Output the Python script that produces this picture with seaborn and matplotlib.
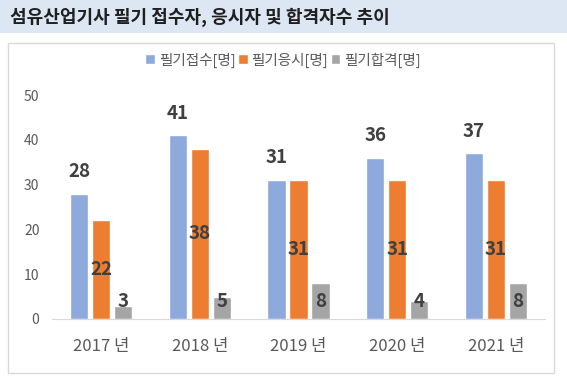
import pandas as pd
import matplotlib.pyplot as plt
import seaborn as sns
from matplotlib.patches import Rectangle

years = ['2017 년', '2018 년', '2019 년', '2020 년', '2021 년']
series_names = ['필기접수[명]', '필기응시[명]', '필기합격[명]']
applied = [28, 41, 31, 36, 37]
attended = [22, 38, 31, 31, 31]
passed = [3, 5, 8, 4, 8]
colors = ['#8EA9DB', '#ED7D31', '#A5A5A5']
title = '섬유산업기사 필기 접수자, 응시자 및 합격자수 추이'


def make_chart():
    sns.set_style('white')
    plt.rcParams['font.family'] = ['Noto Sans CJK KR', 'DejaVu Sans']

    df = pd.DataFrame({
        'year': years * 3,
        'series': [s for s in series_names for _ in years],
        'value': applied + attended + passed,
    })

    fig = plt.figure(figsize=(5.67, 3.85), dpi=100)
    fig.patch.set_facecolor('white')
    # title band and chart frame (behind the axes)
    fig.patches.append(Rectangle((0, 1 - 33 / 385), 1, 33 / 385, transform=fig.transFigure,
                                 facecolor='#DDE7F4', edgecolor='none', zorder=-2))
    fig.patches.append(Rectangle((8 / 567, 1 - 373 / 385), 546 / 567, 330 / 385,
                                 transform=fig.transFigure, facecolor='white',
                                 edgecolor='#D9D9D9', linewidth=1, zorder=-2))
    fig.text(10 / 567, 1 - 17 / 385, title, fontsize=13, fontweight='bold',
             color='#1F1F1F', va='center', ha='left')

    ax = fig.add_axes([52 / 567, 1 - 319 / 385, 493 / 567, 224 / 385])
    ax.set_facecolor('none')
    sns.barplot(data=df, x='year', y='value', hue='series', palette=colors,
                width=0.67, gap=0.18, ax=ax, saturation=1)

    ax.set_ylim(0, 50)
    ax.set_xlim(-0.5, 4.5)
    ax.set_yticks(range(0, 51, 10))
    ax.set_xlabel('')
    ax.set_ylabel('')
    for side in ['top', 'right', 'left']:
        ax.spines[side].set_visible(False)
    ax.spines['bottom'].set_color('#D9D9D9')
    ax.tick_params(axis='y', length=0, labelsize=10, labelcolor='#595959', pad=9)
    ax.tick_params(axis='x', length=0, labelsize=12, labelcolor='#595959', pad=14)

    # value labels
    for i, cont in enumerate(ax.containers):
        for bar in cont:
            v = bar.get_height()
            x = bar.get_x() + bar.get_width() / 2
            if i == 0:
                ax.annotate(f'{v:.0f}', (x, v), xytext=(0, 16), textcoords='offset points',
                            ha='center', va='center', fontsize=13.5, fontweight='bold',
                            color='#404040', annotation_clip=False)
            else:
                y = v / 2 if i == 1 else max(v / 2, 4)
                ax.text(x, y, f'{v:.0f}', ha='center', va='center', fontsize=13.5,
                        fontweight='bold', color='#404040')

    ax.legend(loc='center', bbox_to_anchor=(283 / 567, 1 - 60 / 385),
              bbox_transform=fig.transFigure, ncol=3, frameon=False,
              fontsize=10.5, labelcolor='#595959', handlelength=0.65, handleheight=0.65,
              handletextpad=0.25, columnspacing=0.2, borderpad=0)

    fig.savefig('out.png', dpi=100)
    plt.close(fig)


if __name__ == "__main__":
    make_chart()
